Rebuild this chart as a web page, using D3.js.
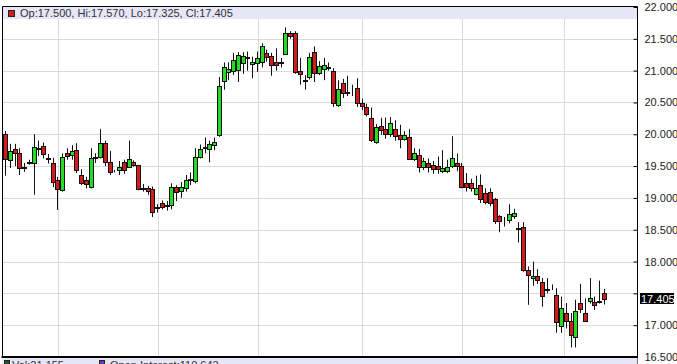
<!DOCTYPE html>
<html>
<head>
<meta charset="utf-8">
<script src="https://cdn.jsdelivr.net/npm/d3@7"></script>
<style>
    body { margin: 0; background: #fff; }
    text { font-family: "Liberation Sans", Arial, sans-serif; }
</style>
</head>
<body>
<div id="main"></div>
<script>
var ctx = {
    width: 677,
    height: 364,
    left: 2.5,
    right: 637.5,
    top: 6.5,
    bottom: 357,
};

// daily candles, oldest first
var opens = [20.00,19.60,19.77,19.70,19.48,19.55,19.55,19.77,19.82,19.63,19.55,19.28,19.12,19.71,19.67,19.75,19.36,19.28,19.17,19.64,
    19.64,19.86,19.56,19.42,19.44,19.56,19.48,19.56,19.52,19.16,19.16,19.14,18.84,18.92,18.88,18.89,19.17,19.11,19.15,19.29,
    19.26,19.64,19.79,19.77,19.83,19.99,20.84,20.98,20.99,21.01,21.12,21.20,21.10,21.12,21.14,21.28,21.23,21.13,21.13,21.26,
    21.59,21.59,20.99,20.86,20.90,21.29,20.97,21.02,21.05,21.00,20.46,20.80,20.66,20.66,20.73,20.49,20.43,20.25,19.88,20.13,
    20.08,20.00,20.08,19.99,19.93,19.95,19.62,19.67,19.49,19.55,19.52,19.50,19.42,19.41,19.50,19.55,19.50,19.23,19.23,19.06,
    19.20,19.07,19.10,18.98,18.71,18.64,18.65,18.73,18.52,18.54,17.87,17.75,17.77,17.68,17.55,17.60,17.48,16.99,17.19,17.07,
    16.82,17.35,17.19,17.38,17.37,17.38,17.500];
var highs = [20.05,19.85,19.85,19.78,19.55,19.60,20.00,19.90,19.87,19.69,19.63,19.33,19.70,19.78,19.83,19.86,19.45,19.33,19.78,19.70,
    20.08,19.90,19.74,19.44,19.58,19.60,19.90,19.59,19.52,19.22,19.19,19.18,18.90,18.96,18.95,19.23,19.20,19.25,19.36,19.40,
    19.78,19.84,19.95,19.90,19.95,20.90,21.13,21.13,21.28,21.29,21.29,21.30,21.22,21.30,21.43,21.33,21.28,21.35,21.20,21.68,
    21.62,21.62,21.20,20.93,21.28,21.38,21.15,21.20,21.13,21.04,20.85,20.87,20.92,20.78,20.88,20.56,20.48,20.42,20.16,20.26,
    20.26,20.27,20.22,20.15,20.05,20.08,19.78,19.77,19.63,19.62,19.58,19.65,19.75,19.60,19.97,19.70,19.55,19.39,19.30,19.35,
    19.37,19.15,19.15,19.00,18.73,18.70,18.90,18.83,18.62,18.62,17.92,18.00,17.88,17.74,17.74,17.64,17.58,17.45,17.35,17.19,
    17.40,17.65,17.42,17.74,17.45,17.70,17.570];
var lows = [19.35,19.47,19.50,19.36,19.41,19.52,19.05,19.66,19.62,19.54,19.17,18.81,19.10,19.60,19.60,19.39,19.20,19.15,19.15,19.55,
    19.62,19.50,19.36,19.40,19.36,19.38,19.47,19.49,19.12,19.10,19.05,18.70,18.77,18.82,18.80,18.82,18.95,19.00,19.10,19.20,
    19.23,19.62,19.70,19.56,19.75,19.96,20.70,20.85,20.93,20.82,20.95,21.00,20.88,20.98,21.05,21.14,20.92,21.00,21.05,21.25,
    21.50,20.95,20.78,20.70,20.86,20.82,20.93,20.85,21.00,20.43,20.43,20.57,20.60,20.60,20.43,20.38,20.28,19.88,19.85,19.99,
    19.93,19.96,19.90,19.78,19.90,19.60,19.58,19.40,19.44,19.40,19.38,19.38,19.39,19.39,19.47,19.42,19.15,19.10,19.10,19.04,
    18.92,18.90,18.87,18.59,18.46,18.55,18.60,18.67,18.30,17.84,17.32,17.62,17.65,17.29,17.50,17.55,16.88,16.88,16.95,16.65,
    16.65,17.19,17.05,17.34,17.24,17.34,17.325];
var closes = [19.61,19.74,19.71,19.47,19.47,19.56,19.80,19.79,19.70,19.62,19.25,19.14,19.64,19.66,19.73,19.44,19.23,19.22,19.63,19.65,
    19.86,19.56,19.41,19.42,19.49,19.44,19.61,19.51,19.15,19.15,19.11,18.78,18.85,18.86,18.89,19.17,19.09,19.17,19.28,19.30,
    19.64,19.77,19.80,19.85,19.88,20.76,21.06,21.03,21.17,21.25,21.23,21.21,21.13,21.20,21.39,21.21,21.09,21.09,21.14,21.59,
    21.54,20.98,20.95,20.85,21.21,20.96,21.08,21.09,21.06,20.49,20.71,20.65,20.67,20.66,20.49,20.44,20.32,19.91,20.12,20.07,
    20.00,20.18,19.97,19.93,19.99,19.61,19.71,19.48,19.58,19.48,19.46,19.45,19.47,19.48,19.63,19.50,19.17,19.17,19.15,19.16,
    18.98,18.93,18.92,18.63,18.63,18.64,18.74,18.77,18.51,17.86,17.79,17.78,17.71,17.46,17.57,17.60,17.05,17.27,17.07,16.85,
    17.23,17.25,17.07,17.42,17.32,17.37,17.405];

var priceTicks = [16.5, 17, 17.5, 18, 18.5, 19, 19.5, 20, 20.5, 21, 21.5, 22];
// month boundaries, in candle positions
var monthBreaks = [11.2, 32.2, 53.3, 75.2, 96.2, 117.5];

var header = "Op:17.500, Hi:17.570, Lo:17.325, Cl:17.405";
var volLabel = "Vol:21,155";
var oiLabel = "Open Interest:110,643";

var createChart = function(svg){
    var candles = opens.map(function(o, i){
        return {i: i, o: o, h: highs[i], l: lows[i], c: closes[i]};
    });
    var last = candles[candles.length - 1];

    var x = d3.scaleLinear()
              .domain([0, candles.length - 1])
              .range([5, 604]);
    var y = d3.scaleLinear()
              .domain([16.5, 22])
              .range([ctx.bottom, 7]);

    svg.attr("width", ctx.width).attr("height", ctx.height);

    // horizontal grid
    svg.append("g").selectAll("line")
       .data(priceTicks)
       .enter().append("line")
         .attr("x1", ctx.left).attr("x2", ctx.right)
         .attr("y1", function(d){ return Math.round(y(d)) + 0.5; })
         .attr("y2", function(d){ return Math.round(y(d)) + 0.5; })
         .attr("stroke", "#d9d9d9");
    // vertical grid
    svg.append("g").selectAll("line")
       .data(monthBreaks)
       .enter().append("line")
         .attr("x1", function(d){ return Math.round(x(d)) + 0.5; })
         .attr("x2", function(d){ return Math.round(x(d)) + 0.5; })
         .attr("y1", ctx.top).attr("y2", ctx.bottom)
         .attr("stroke", "#d9d9d9");

    // header band
    svg.append("rect")
       .attr("x", ctx.left).attr("y", ctx.top)
       .attr("width", ctx.right - ctx.left).attr("height", 12.5)
       .attr("fill", "#e6e6f7");
    svg.append("rect")
       .attr("x", 8.5).attr("y", 10.5).attr("width", 6).attr("height", 6)
       .attr("fill", last.c < last.o ? "#d01c1c" : "#22dd22")
       .attr("stroke", "#222");
    svg.append("text")
       .attr("x", 20).attr("y", 17)
       .attr("font-size", "11px").attr("fill", "#333")
       .text(header);

    // candles
    var g = svg.append("g");
    g.selectAll(".wick")
     .data(candles)
     .enter().append("line")
       .attr("class", "wick")
       .attr("x1", function(d){ return Math.round(x(d.i)) + 0.5; })
       .attr("x2", function(d){ return Math.round(x(d.i)) + 0.5; })
       .attr("y1", function(d){ return y(d.h); })
       .attr("y2", function(d){ return y(d.l); })
       .attr("stroke", "#111");
    g.selectAll(".body")
     .data(candles)
     .enter().append("rect")
       .attr("class", "body")
       .attr("x", function(d){ return Math.round(x(d.i)) - 2 + 0.5; })
       .attr("width", 4)
       .attr("y", function(d){ return Math.round(y(Math.max(d.o, d.c))) + 0.5; })
       .attr("height", function(d){ return Math.max(0, Math.round(Math.abs(y(d.o) - y(d.c)))); })
       .attr("fill", function(d){ return d.c >= d.o ? "#22dd22" : "#d01c1c"; })
       .attr("stroke", "#111");

    // frame
    svg.append("line")
       .attr("x1", ctx.left).attr("x2", ctx.right)
       .attr("y1", ctx.top).attr("y2", ctx.top)
       .attr("stroke", "#000");
    svg.append("line")
       .attr("x1", ctx.left).attr("x2", ctx.left)
       .attr("y1", ctx.top).attr("y2", ctx.bottom)
       .attr("stroke", "#000");

    // right axis
    var axis = d3.axisRight(y)
                 .tickValues(priceTicks)
                 .tickFormat(d3.format(".3f"))
                 .tickSize(-4)
                 .tickPadding(7);
    var ax = svg.append("g")
                .attr("transform", "translate(" + ctx.right + ",0)")
                .call(axis);
    ax.select(".domain").attr("d", "M0," + ctx.top + "V" + (ctx.bottom + 7));
    ax.selectAll("text")
      .attr("font-family", "Liberation Sans, Arial, sans-serif")
      .attr("font-size", "11px")
      .attr("fill", "#222");
    // the last price flag hides the label it sits on
    ax.selectAll(".tick")
      .filter(function(d){ return Math.abs(y(d) - y(last.c)) < 11; })
      .select("text").remove();

    // last price flag
    svg.append("rect")
       .attr("x", 640).attr("y", Math.round(y(last.c)) - 6)
       .attr("width", 34).attr("height", 11)
       .attr("fill", "#000");
    svg.append("text")
       .attr("x", 641).attr("y", Math.round(y(last.c)) + 4)
       .attr("font-size", "11px").attr("fill", "#fff")
       .text(d3.format(".3f")(last.c));

    // volume pane, mostly cut off
    svg.append("rect")
       .attr("x", ctx.left).attr("y", ctx.bottom + 1)
       .attr("width", ctx.right - ctx.left).attr("height", 10)
       .attr("fill", "#e6e6f7");
    svg.append("line")
       .attr("x1", ctx.left - 1).attr("x2", ctx.right)
       .attr("y1", ctx.bottom).attr("y2", ctx.bottom)
       .attr("stroke", "#000").attr("stroke-width", 2);
    svg.append("rect")
       .attr("x", 4.5).attr("y", 360.5).attr("width", 5).attr("height", 6)
       .attr("fill", "#1d5a2a").attr("stroke", "#222");
    svg.append("text")
       .attr("x", 12).attr("y", 369)
       .attr("font-size", "11px").attr("fill", "#333")
       .text(volLabel);
    svg.append("rect")
       .attr("x", 99.5).attr("y", 360.5).attr("width", 5).attr("height", 6)
       .attr("fill", "#6a3bb0").attr("stroke", "#222");
    svg.append("text")
       .attr("x", 110).attr("y", 369)
       .attr("font-size", "11px").attr("fill", "#333")
       .text(oiLabel);
};

var svgEl = d3.select("#main").append("svg");
createChart(svgEl);
</script>
</body>
</html>
